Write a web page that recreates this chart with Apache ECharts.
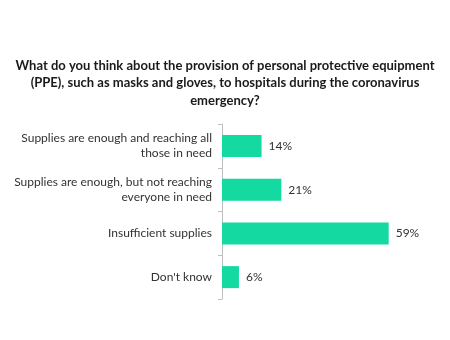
<!DOCTYPE html>
<html><head><meta charset="utf-8">
<script src="https://cdn.jsdelivr.net/npm/echarts@6/dist/echarts.min.js"></script>
<style>html,body{margin:0;padding:0;background:#fff}#c{width:450px;height:340px}</style>
</head><body><div id="c"></div>
<script>
var titleText = "What do you think about the provision of personal protective equipment\n(PPE), such as masks and gloves, to hospitals during the coronavirus\nemergency?";
var categories = [
  "Supplies are enough and reaching all\nthose in need",
  "Supplies are enough, but not reaching\neveryone in need",
  "Insufficient supplies",
  "Don't know"
];
var values = [14, 21, 59, 6];

var chart = echarts.init(document.getElementById('c'), null, {renderer:'canvas'});
chart.setOption({
  backgroundColor: '#fff',
  animation: false,
  title: {
    text: titleText,
    left: 'center',
    top: 52,
    textStyle: {fontFamily: 'Lato', fontWeight: 'bold', fontSize: 13, color: '#1a1a1a', lineHeight: 17.5}
  },
  grid: {left: 222, right: 2, top: 124, height: 175, containLabel: false},
  xAxis: {
    type: 'value', min: 0, max: 80, show: false
  },
  yAxis: {
    type: 'category', data: categories, inverse: true,
    axisLine: {show: true, lineStyle: {color: '#bfbfbf', width: 1}},
    axisTick: {show: true, length: 4, lineStyle: {color: '#bfbfbf'}},
    axisLabel: {fontFamily: 'Lato', fontSize: 12, color: '#333', align: 'right', margin: 10, lineHeight: 15}
  },
  series: [{
    type: 'bar', data: values, barWidth: 22,
    itemStyle: {color: '#14d9a1'},
    label: {show: true, position: 'right', distance: 7, formatter: '{c}%', fontFamily: 'Lato', fontSize: 12, color: '#333'}
  }]
});
</script></body></html>
